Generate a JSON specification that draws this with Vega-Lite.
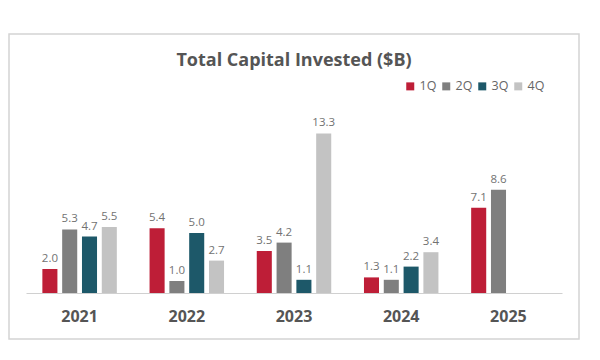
{
  "$schema": "https://vega.github.io/schema/vega-lite/v6.json",
  "width": 570,
  "height": 305,
  "autosize": {"type": "none"},
  "padding": {"left": 9, "top": 34, "right": 21, "bottom": 21},
  "background": "white",
  "config": {
    "font": "Open Sans",
    "view": {"stroke": "#d4d4d4", "strokeWidth": 1.5}
  },
  "title": {
    "text": "Total Capital Invested ($B)",
    "anchor": "middle",
    "offset": -36,
    "fontSize": 18,
    "fontWeight": "bold",
    "color": "#555555",
    "font": "Open Sans"
  },
  "data": {
    "values": [
      {"year": "2021", "quarter": "1Q", "value": 2.0},
      {"year": "2021", "quarter": "2Q", "value": 5.3},
      {"year": "2021", "quarter": "3Q", "value": 4.7},
      {"year": "2021", "quarter": "4Q", "value": 5.5},
      {"year": "2022", "quarter": "1Q", "value": 5.4},
      {"year": "2022", "quarter": "2Q", "value": 1.0},
      {"year": "2022", "quarter": "3Q", "value": 5.0},
      {"year": "2022", "quarter": "4Q", "value": 2.7},
      {"year": "2023", "quarter": "1Q", "value": 3.5},
      {"year": "2023", "quarter": "2Q", "value": 4.2},
      {"year": "2023", "quarter": "3Q", "value": 1.1},
      {"year": "2023", "quarter": "4Q", "value": 13.3},
      {"year": "2024", "quarter": "1Q", "value": 1.3},
      {"year": "2024", "quarter": "2Q", "value": 1.1},
      {"year": "2024", "quarter": "3Q", "value": 2.2},
      {"year": "2024", "quarter": "4Q", "value": 3.4},
      {"year": "2025", "quarter": "1Q", "value": 7.1},
      {"year": "2025", "quarter": "2Q", "value": 8.6}
    ]
  },
  "encoding": {
    "x": {
      "field": "year",
      "type": "nominal",
      "scale": {"range": [17, 553], "paddingInner": 0.2, "paddingOuter": 0.1},
      "axis": {
        "title": null,
        "labelAngle": 0,
        "offset": -46,
        "ticks": false,
        "domainColor": "#d0d0d0",
        "domainWidth": 1,
        "labelPadding": 15,
        "labelFontSize": 16,
        "labelFontWeight": "bold",
        "labelColor": "#555555",
        "labelFont": "Open Sans",
        "grid": false
      }
    },
    "xOffset": {
      "field": "quarter",
      "type": "nominal",
      "scale": {"domain": ["1Q", "2Q", "3Q", "4Q"], "paddingInner": 0.24, "paddingOuter": 0.285}
    },
    "y": {
      "field": "value",
      "type": "quantitative",
      "scale": {"domain": [-3.833, 21.583], "nice": false, "zero": false},
      "axis": null
    }
  },
  "layer": [
    {
      "mark": {"type": "bar"},
      "encoding": {
        "y2": {"datum": 0},
        "color": {
          "field": "quarter",
          "type": "nominal",
          "scale": {
            "domain": ["1Q", "2Q", "3Q", "4Q"],
            "range": ["#BE1E37", "#7F7F7F", "#1D5869", "#C3C3C3"]
          },
          "legend": {
            "title": null,
            "orient": "none",
            "legendX": 395,
            "legendY": 46,
            "direction": "horizontal",
            "symbolType": "square",
            "symbolSize": 64,
            "symbolStrokeWidth": 0,
            "labelFontSize": 12.5,
            "labelColor": "#666666",
            "labelFont": "Open Sans",
            "columnPadding": 3,
            "labelOffset": 3
          }
        }
      }
    },
    {
      "mark": {"type": "text", "baseline": "alphabetic", "dy": -7, "fontSize": 11.5, "color": "#727272", "font": "Open Sans"},
      "encoding": {
        "text": {"field": "value", "type": "quantitative", "format": ".1f"}
      }
    }
  ]
}
